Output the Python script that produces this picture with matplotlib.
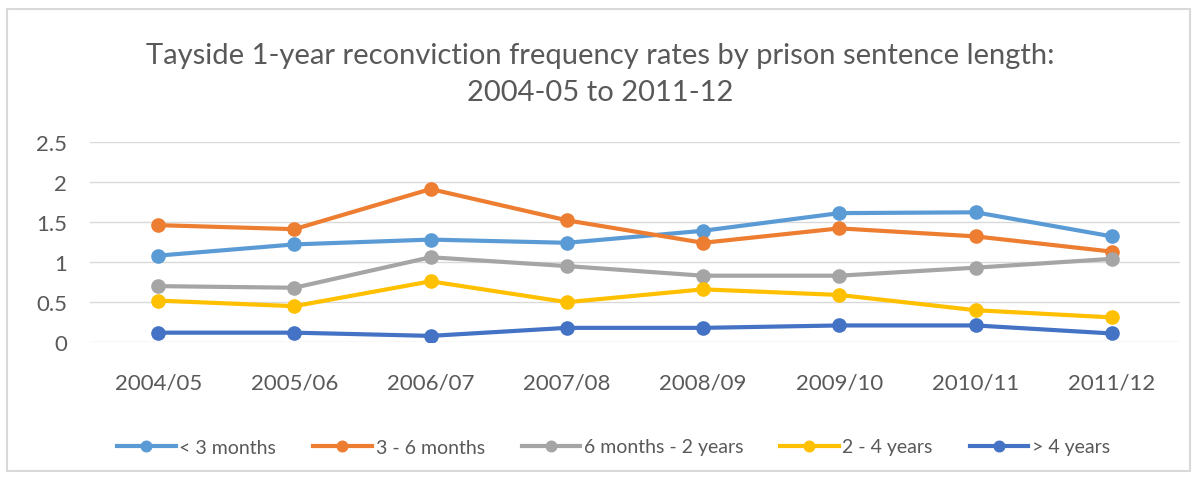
import matplotlib.pyplot as plt
from matplotlib.patches import Rectangle

plt.rcParams['font.family'] = ['Lato', 'DejaVu Sans']

years = ['2004/05', '2005/06', '2006/07', '2007/08', '2008/09', '2009/10', '2010/11', '2011/12']

under_3m = [1.08, 1.22, 1.28, 1.24, 1.39, 1.61, 1.62, 1.32]
m3_6 = [1.46, 1.41, 1.91, 1.52, 1.24, 1.42, 1.32, 1.13]
m6_2y = [0.70, 0.68, 1.06, 0.95, 0.83, 0.83, 0.93, 1.04]
y2_4 = [0.52, 0.45, 0.76, 0.50, 0.66, 0.59, 0.40, 0.31]
over_4y = [0.12, 0.12, 0.08, 0.18, 0.18, 0.21, 0.21, 0.11]

series = [
    ('< 3 months', under_3m, '#5B9BD5'),
    ('3 - 6 months', m3_6, '#ED7D31'),
    ('6 months - 2 years', m6_2y, '#A5A5A5'),
    ('2 - 4 years', y2_4, '#FFC000'),
    ('> 4 years', over_4y, '#4472C4'),
]

fig = plt.figure(figsize=(12.01, 4.81), dpi=100)
ax = fig.add_axes([90 / 1201, 1 - 343.3 / 481, 1090 / 1201, 200.6 / 481])

# chart frame
fig.patches.append(Rectangle((7 / 1201, 1 - 472 / 481), 1183 / 1201, 462 / 481,
                             transform=fig.transFigure, fill=False,
                             edgecolor='#D9D9D9', lw=1.5))

x = range(len(years))
for name, vals, col in series:
    ax.plot(x, vals, '-o', color=col, lw=3, ms=9.5, label=name)

ax.set_xlim(-0.5, len(years) - 0.5)
ax.set_ylim(0, 2.5)
ax.set_yticks([0, 0.5, 1, 1.5, 2, 2.5])
ax.set_yticklabels(['0', '0.5', '1', '1.5', '2', '2.5'])
ax.set_xticks(list(x))
ax.set_xticklabels(years)
ax.grid(axis='y', color='#D9D9D9', lw=1)
ax.set_axisbelow(True)
for s in ax.spines.values():
    s.set_visible(False)
ax.tick_params(length=0, labelsize=16, labelcolor='#595959')
ax.tick_params(axis='y', pad=16.5)
ax.tick_params(axis='x', pad=22)

fig.text(0.5, 1 - 56 / 481, 'Tayside 1-year reconviction frequency rates by prison sentence length:',
         ha='center', va='center', fontsize=21, color='#595959')
fig.text(0.5, 1 - 93 / 481, '2004-05 to 2011-12',
         ha='center', va='center', fontsize=21, color='#595959')

fig.legend(loc='center', bbox_to_anchor=(0.511, 1 - 448 / 481), ncol=5, frameon=False,
           fontsize=14, labelcolor='#595959', handlelength=3.0, handletextpad=0.2,
           columnspacing=1.9, markerscale=0.8)

fig.savefig('out.png', dpi=100)
